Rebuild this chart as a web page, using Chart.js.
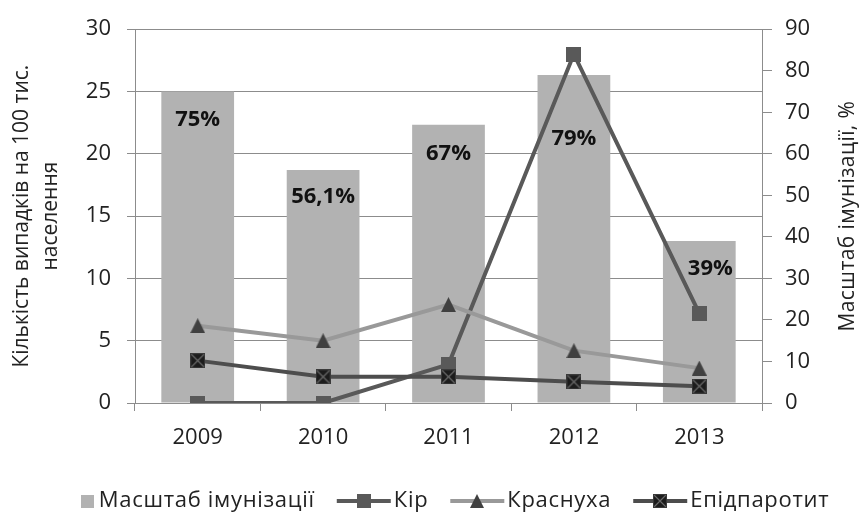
<!DOCTYPE html>
<html>
<head>
<meta charset="utf-8">
<script src="https://cdn.jsdelivr.net/npm/chart.js@4.4.0/dist/chart.umd.min.js"></script>
<style>
html, body { margin: 0; padding: 0; background: #fff; }
#wrap { width: 862px; height: 518px; }
</style>
</head>
<body>
<div id="wrap"><canvas id="grafik" width="862" height="518"></canvas></div>
<script>
// дані
var roky = ['2009', '2010', '2011', '2012', '2013'];
var imunizacia = [75, 56.1, 67, 79, 39];
var imunizaciaPidpys = ['75%', '56,1%', '67%', '79%', '39%'];
var kir = [0, 0, 3.1, 28, 7.2];
var krasnukha = [6.2, 5.0, 7.9, 4.2, 2.8];
var epidparotyt = [3.4, 2.1, 2.1, 1.7, 1.35];

// розміщення підписів над стовпцями (пікселі від верху стовпця)
var pidpysZsuv = [28, 27, 29, 64, 28];
var pidpysX = [0, 0, 0, 0, 11];

var shryft = '"Open Sans", "Noto Sans", sans-serif';
var sira = '#8c8c8c';
var tekst = '#222';

function poloten(w, h) {
    var c = document.createElement('canvas');
    c.width = w; c.height = h;
    return c;
}

function kvadrat(s, kolir) {
    var c = poloten(s, s);
    var g = c.getContext('2d');
    g.fillStyle = kolir;
    g.fillRect(0, 0, s, s);
    return c;
}

function trykutnyk(s, kolir) {
    var c = poloten(s, s);
    var g = c.getContext('2d');
    g.fillStyle = kolir;
    g.beginPath();
    g.moveTo(s / 2, 0);
    g.lineTo(s, s);
    g.lineTo(0, s);
    g.closePath();
    g.fill();
    return c;
}

function kvadratX(s) {
    var c = poloten(s, s);
    var g = c.getContext('2d');
    g.fillStyle = '#1c1c1c';
    g.fillRect(0, 0, s, s);
    g.strokeStyle = '#6a6a6a';
    g.lineWidth = 1.2;
    g.beginPath();
    g.moveTo(1, 1); g.lineTo(s - 1, s - 1);
    g.moveTo(s - 1, 1); g.lineTo(1, s - 1);
    g.stroke();
    g.strokeStyle = '#3a3a3a';
    g.strokeRect(0.5, 0.5, s - 1, s - 1);
    return c;
}

var mKir = kvadrat(15, '#595959');
var mKras = trykutnyk(15, '#404040');
var mEpid = kvadratX(15);

// легенда: мітка, колір лінії (null для стовпців)
var legenda = [
    { tekst: 'Масштаб імунізації', marker: kvadrat(13, '#b2b2b2'), liniya: null },
    { tekst: 'Кір', marker: kvadrat(14, '#595959'), liniya: '#595959' },
    { tekst: 'Краснуха', marker: trykutnyk(14, '#404040'), liniya: '#999999' },
    { tekst: 'Епідпаротит', marker: kvadratX(14), liniya: '#4d4d4d' }
];

var legendaPlugin = {
    id: 'legendaPlugin',
    afterDraw: function (chart) {
        var ctx = chart.ctx;
        var y = 501;
        ctx.save();
        ctx.font = '22px ' + shryft;
        ctx.letterSpacing = '0.7px';
        ctx.textBaseline = 'middle';
        ctx.textAlign = 'left';
        var shyryny = legenda.map(function (l) {
            var ik = l.liniya ? 54 : 13;
            var vidstup = l.liniya ? 3 : 5;
            return { ik: ik, vidstup: vidstup, t: ctx.measureText(l.tekst).width };
        });
        var vsogo = 0;
        shyryny.forEach(function (s, i) {
            vsogo += s.ik + s.vidstup + s.t + (i < shyryny.length - 1 ? 22 : 0);
        });
        var x = 455 - vsogo / 2;
        legenda.forEach(function (l, i) {
            var s = shyryny[i];
            if (l.liniya) {
                ctx.strokeStyle = l.liniya;
                ctx.lineWidth = 4;
                ctx.beginPath();
                ctx.moveTo(x, y); ctx.lineTo(x + s.ik, y);
                ctx.stroke();
            }
            ctx.drawImage(l.marker, Math.round(x + s.ik / 2 - l.marker.width / 2), Math.round(y - l.marker.height / 2));
            x += s.ik + s.vidstup;
            ctx.fillStyle = tekst;
            ctx.fillText(l.tekst, x, y);
            x += s.t + 22;
        });
        ctx.restore();
    }
};

var pidpysy = {
    id: 'pidpysy',
    afterDatasetsDraw: function (chart) {
        var ctx = chart.ctx;
        var meta = chart.getDatasetMeta(0);
        ctx.save();
        ctx.font = 'bold 22px ' + shryft;
        ctx.fillStyle = '#111';
        ctx.textAlign = 'center';
        ctx.textBaseline = 'middle';
        meta.data.forEach(function (bar, i) {
            ctx.fillText(imunizaciaPidpys[i], bar.x + pidpysX[i], bar.y + pidpysZsuv[i]);
        });
        ctx.restore();
    }
};

var pravyiNapys = {
    id: 'pravyiNapys',
    afterDraw: function (chart) {
        var ctx = chart.ctx;
        var a = chart.chartArea;
        ctx.save();
        ctx.translate(848, (a.top + a.bottom) / 2);
        ctx.rotate(-Math.PI / 2);
        ctx.font = '21px ' + shryft;
        ctx.letterSpacing = '0.4px';
        ctx.fillStyle = tekst;
        ctx.textAlign = 'center';
        ctx.textBaseline = 'middle';
        ctx.fillText('Масштаб імунізації, %', 0, 0);
        ctx.restore();
    }
};

var shryftOsi = { family: shryft, size: 22 };

var grafik = new Chart(document.getElementById('grafik').getContext('2d'), {
    type: 'bar',
    data: {
        labels: roky,
        datasets: [{
            type: 'bar',
            label: 'Масштаб імунізації',
            data: imunizacia,
            yAxisID: 'y1',
            backgroundColor: '#b2b2b2',
            barPercentage: 0.58,
            categoryPercentage: 1,
            order: 4
        }, {
            type: 'line',
            label: 'Кір',
            data: kir,
            yAxisID: 'y',
            borderColor: '#595959',
            borderWidth: 4,
            pointStyle: mKir,
            order: 3
        }, {
            type: 'line',
            label: 'Краснуха',
            data: krasnukha,
            yAxisID: 'y',
            borderColor: '#999999',
            borderWidth: 4,
            pointStyle: mKras,
            order: 2
        }, {
            type: 'line',
            label: 'Епідпаротит',
            data: epidparotyt,
            yAxisID: 'y',
            borderColor: '#4d4d4d',
            borderWidth: 4,
            pointStyle: mEpid,
            order: 1
        }]
    },
    options: {
        responsive: false,
        animation: false,
        layout: { padding: { top: 10, left: 0, right: 0, bottom: 0 } },
        plugins: {
            tooltip: { enabled: false },
            legend: { display: false }
        },
        scales: {
            x: {
                grid: { offset: true, drawOnChartArea: false, drawTicks: true, tickLength: 8, color: sira },
                border: { color: sira },
                ticks: { color: tekst, padding: 14, font: shryftOsi },
                afterFit: function (s) { s.height = 115; }
            },
            y: {
                position: 'left',
                min: 0, max: 30,
                ticks: { stepSize: 5, color: tekst, padding: 16, font: shryftOsi },
                grid: { color: sira, tickLength: 8 },
                border: { color: sira },
                title: {
                    display: true,
                    text: ['Кількість випадків на 100 тис.', 'населення'],
                    color: tekst,
                    font: { family: shryft, size: 21, lineHeight: 1.35 },
                    padding: { top: 8, bottom: 0 }
                },
                afterFit: function (s) { s.width = 135; }
            },
            y1: {
                position: 'right',
                min: 0, max: 90,
                ticks: { stepSize: 10, color: tekst, padding: 13, font: shryftOsi },
                grid: { drawOnChartArea: false, color: sira, tickLength: 10 },
                border: { color: sira },
                afterFit: function (s) { s.width = 100; }
            }
        }
    },
    plugins: [pidpysy, pravyiNapys, legendaPlugin]
});
</script>
</body>
</html>
